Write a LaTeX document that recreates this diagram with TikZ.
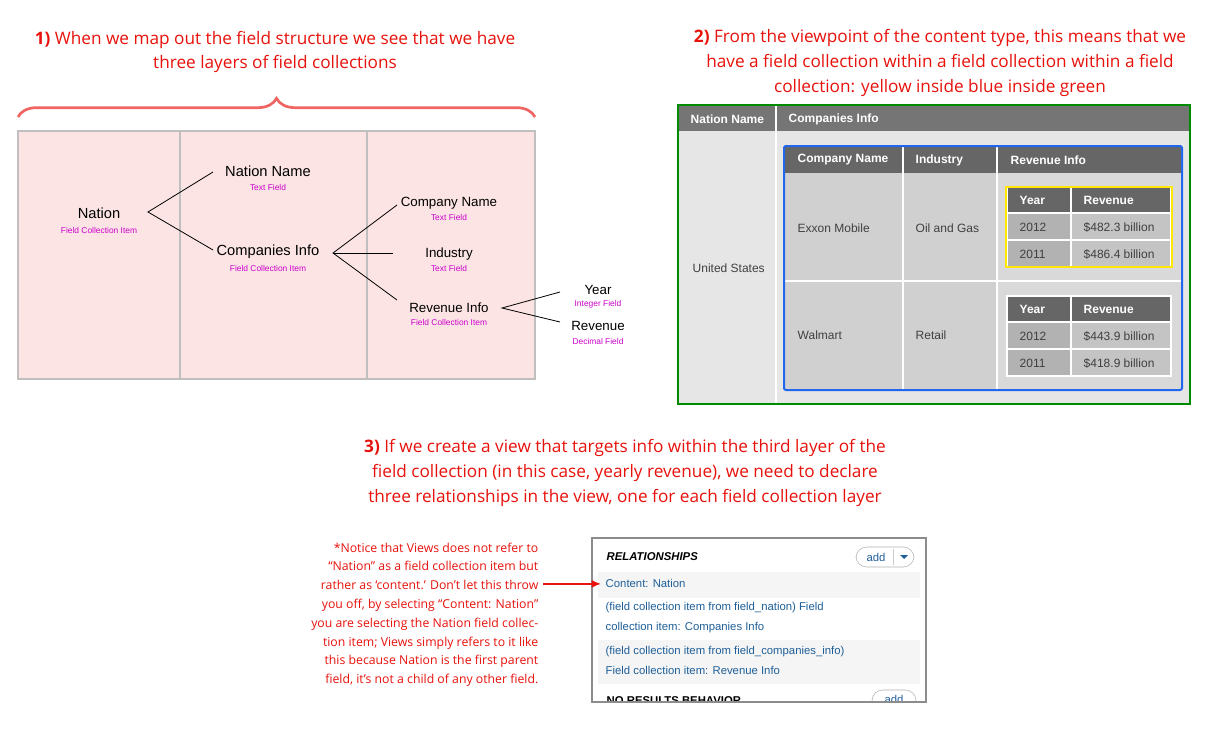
\documentclass[tikz,border=0pt]{standalone}
\usepackage{fontspec}
\setmainfont{Liberation Sans}
\newfontfamily\headfont{Open Sans}
\usetikzlibrary{arrows.meta,decorations.pathreplacing}
\definecolor{hred}{HTML}{E8120C}
\definecolor{mag}{HTML}{CC00CC}
\definecolor{pnk}{HTML}{FCE4E4}
\definecolor{dhead}{HTML}{666666}
\definecolor{bodyg}{HTML}{E6E6E6}
\definecolor{cellg}{HTML}{D0D0D0}
\definecolor{linkb}{HTML}{1F5F99}
\definecolor{tblue}{HTML}{2266EE}
\tikzset{
 head/.style={font=\headfont\fontsize{12.9}{18.5}\selectfont,text=hred,align=center},
 fld/.style={font=\fontsize{11}{13}\selectfont},
 fldm/.style={font=\fontsize{10}{12}\selectfont},
 sub/.style={font=\fontsize{6.3}{7}\selectfont,text=mag},
 conn/.style={draw=black,line width=0.6pt},
 th/.style={font=\bfseries\fontsize{9}{11}\selectfont,text=white,anchor=west},
 td/.style={font=\fontsize{9}{11}\selectfont,text=black!75,anchor=west},
 lk/.style={font=\fontsize{8.5}{15}\selectfont,text=linkb,anchor=north west,align=left},
}
\begin{document}
\begin{tikzpicture}[x=0.75pt,y=-0.75pt]
\useasboundingbox (0,0) rectangle (1212,736);
\fill[white] (0,0) rectangle (1212,736);
% headings
\node[head] (h1) at (275,52) {\textbf{1)} When we map out the field structure we see that we have\\three layers of field collections};
\node[head] (h2) at (940,63) {\textbf{2)} From the viewpoint of the content type, this means that we\\have a field collection within a field collection within a field\\collection: yellow inside blue inside green};
\node[head] (h3) at (625,473) {\textbf{3)} If we create a view that targets info within the third layer of the\\field collection (in this case, yearly revenue), we need to declare\\three relationships in the view, one for each field collection layer};
% brace
\draw[hred!65,line width=2pt,decorate,decoration={brace,amplitude=14pt}] (18,117) -- (535,117);
% panels
\foreach \a/\b in {18/180,180/367,367/535}
  \draw[fill=pnk,draw=black!25,line width=0.8pt] (\a,131) rectangle (\b,379);
% tree
\node[fld] (nat) at (99,213) {Nation};
\node[sub] (natS) at (99,230) {Field Collection Item};
\node[fld] (nn) at (268,171) {Nation Name};
\node[sub] (nnS) at (268,187) {Text Field};
\node[fld] (ci) at (268,252) {Companies Info};
\node[sub] (ciS) at (268,268) {Field Collection Item};
\node[fldm] (cn) at (449,203) {Company Name};
\node[sub] (cnS) at (449,217) {Text Field};
\node[fldm] (ind) at (449,254) {Industry};
\node[sub] (indS) at (449,268) {Text Field};
\node[fldm] (ri) at (449,308) {Revenue Info};
\node[sub] (riS) at (449,322) {Field Collection Item};
\node[fldm] (yr) at (598,290) {Year};
\node[sub] (yrS) at (598,304) {Integer Field};
\node[fldm] (rv) at (598,326) {Revenue};
\node[sub] (rvS) at (598,341) {Decimal Field};
\coordinate (p1) at (148,212);
\draw[conn] (213,172) -- (p1) -- (213,250);
\coordinate (p2) at (333,253);
\draw[conn] (397,205) -- (p2) -- (397,300);
\draw[conn] (p2) -- (393,253);
\coordinate (p3) at (502,308);
\draw[conn] (560,292) -- (p3) -- (560,322);
% table 2
\fill[bodyg] (678,105) rectangle (1190,404);
\fill[black!54] (678,106) rectangle (1190,131);
\draw[white,line width=1.2pt] (776,106) -- (776,404);
\node[th] (tnn) at (686,119) {Nation Name};
\node[th] (tci) at (784,119) {Companies Info};
\node[td] (tus) at (688,268) {United States};
% blue table
\fill[cellg] (784,146) rectangle (1182,390);
\fill[dhead] (784,147) rectangle (1182,173);
\fill[black!15] (997,173) rectangle (1182,390);
\draw[white,line width=1pt] (903,147) -- (903,390) (997,147) -- (997,390) (784,281) -- (1182,281);
\node[th] (tcn) at (793,160) {Company Name};
\node[th] (tin) at (911,160) {Industry};
\node[th] (tri) at (1006,160) {Revenue Info};
\node[td] (tex) at (793,228) {Exxon Mobile};
\node[td] (tog) at (911,228) {Oil and Gas};
\node[td] (twm) at (793,335) {Walmart};
\node[td] (trt) at (911,335) {Retail};
\foreach \y/\nm/\ra/\rb in {187/a/\$482.3 billion/\$486.4 billion,296/b/\$443.9 billion/\$418.9 billion}{
  \fill[dhead] (1007,\y) rectangle (1171,\y+26);
  \fill[black!30] (1007,\y+26) rectangle (1171,\y+80);
  \fill[black!23] (1071,\y+26) rectangle (1171,\y+80);
  \draw[white,line width=1pt] (1071,\y) -- (1071,\y+80) (1007,\y+53) -- (1171,\y+53) (1007,\y+26) -- (1171,\y+26);
  \draw[white,line width=0.8pt] (1007,\y) rectangle (1171,\y+80);
  \node[th] (y\nm) at (1015,\y+13) {Year};
  \node[th] (r\nm) at (1079,\y+13) {Revenue};
  \node[td] (y\nm1) at (1015,\y+40) {2012};
  \node[td] (r\nm1) at (1079,\y+40) {\ra};
  \node[td] (y\nm2) at (1015,\y+67) {2011};
  \node[td] (r\nm2) at (1079,\y+67) {\rb};
}
\draw[yellow!90!orange,line width=1.2pt] (1006,187) rectangle (1172,267);
\draw[tblue,line width=1.5pt,rounded corners=1.5pt] (784,146) rectangle (1182,390);
\draw[green!55!black,line width=1.5pt] (678,105) rectangle (1190,404);
% note
\node[font=\headfont\fontsize{9.2}{14.1}\selectfont,text=hred,align=right,anchor=north east] (note) at (543,538) {*Notice that Views does not refer to\\“Nation” as a field collection item but\\rather as ‘content.’ Don’t let this throw\\you off, by selecting “Content: Nation”\\you are selecting the Nation field collec-\\tion item; Views simply refers to it like\\this because Nation is the first parent\\field, it’s not a child of any other field.};
% relationships panel
\begin{scope}
\clip (592,538) rectangle (926,702);
\fill[white] (592,538) rectangle (926,702);
\fill[black!4] (598,572) rectangle (920,598);
\fill[black!4] (598,640) rectangle (920,684);
\node[font=\bfseries\itshape\fontsize{8.5}{10}\selectfont,anchor=west] (rel) at (602,557) {RELATIONSHIPS};
\draw[black!30,fill=white,rounded corners=8pt] (856,547) rectangle (914,567);
\draw[black!20] (893,549) -- (893,565);
\node[font=\fontsize{8.5}{10}\selectfont,text=linkb] (add1) at (876,557) {add};
\fill[linkb] (900,555) -- (908,555) -- (904,559) -- cycle;
\node[lk] (c1) at (601,575) {Content: Nation};
\node[lk] (c2) at (601,598) {(field collection item from field\_nation) Field\\collection item: Companies Info};
\node[lk] (c3) at (601,642) {(field collection item from field\_companies\_info)\\Field collection item: Revenue Info};
\node[font=\bfseries\fontsize{8.5}{10}\selectfont,anchor=west] (nrb) at (602,701) {NO RESULTS BEHAVIOR};
\draw[black!30,fill=white,rounded corners=8pt] (872,690) rectangle (916,712);
\node[font=\fontsize{8.5}{10}\selectfont,text=linkb] (add2) at (894,699) {add};
\end{scope}
\draw[black!45,line width=0.8pt] (592,538) rectangle (926,702);
\draw[hred,line width=1.3pt,-{Latex[length=7pt,width=6pt]}] (note.east |- 0,584) -- (c1.west);
\end{tikzpicture}
\end{document}
